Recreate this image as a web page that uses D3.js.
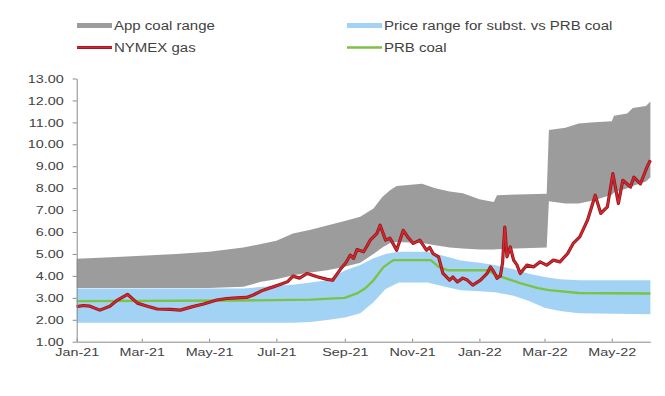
<!DOCTYPE html>
<html>
<head>
<meta charset="utf-8">
<script src="https://cdn.jsdelivr.net/npm/d3@7"></script>
<style>
  html, body { margin: 0; padding: 0; background: #fff; }
  svg { display: block; }
</style>
</head>
<body>
<svg id="chart" width="665" height="396"></svg>
<script>
// Appalachian coal price range (gas-equivalent $/MMBtu)
const appDates = ["2021-01-01","2021-02-01","2021-03-01","2021-04-01","2021-05-01","2021-06-01","2021-06-17","2021-07-01","2021-07-16","2021-08-01","2021-08-16","2021-09-01","2021-09-15","2021-09-27","2021-10-05","2021-10-12","2021-10-18","2021-11-10","2021-11-22","2021-12-05","2021-12-17","2022-01-01","2022-01-14","2022-01-17","2022-03-03","2022-03-05","2022-03-20","2022-04-01","2022-04-15","2022-05-01","2022-05-03","2022-05-15","2022-05-20","2022-06-01","2022-06-05"];
const appLow  = [3.45,3.45,3.45,3.45,3.45,3.5,3.73,3.85,4.03,4.15,4.26,4.42,4.6,5.0,5.3,5.5,5.55,5.5,5.4,5.3,5.25,5.2,5.2,5.22,5.3,7.4,7.3,7.3,7.45,7.7,7.8,8.0,8.1,8.3,8.5];
const appHigh = [4.78,4.85,4.92,5.0,5.1,5.3,5.45,5.6,5.93,6.1,6.3,6.5,6.7,7.07,7.6,7.9,8.1,8.2,8.0,7.85,7.77,7.5,7.37,7.68,7.75,10.65,10.75,10.95,11.0,11.05,11.3,11.4,11.65,11.75,11.95];

// Price range for substitution vs PRB coal
const substDates = ["2021-01-01","2021-06-01","2021-07-01","2021-07-16","2021-08-01","2021-08-16","2021-09-01","2021-09-15","2021-09-27","2021-10-08","2021-10-20","2021-11-15","2021-12-01","2021-12-15","2022-01-01","2022-01-15","2022-02-01","2022-02-15","2022-03-01","2022-03-15","2022-04-01","2022-06-05"];
const substLow  = [1.86,1.86,1.86,1.86,1.9,1.99,2.1,2.3,2.8,3.4,3.7,3.7,3.5,3.35,3.3,3.25,3.1,2.85,2.55,2.4,2.3,2.25];
const substHigh = [3.43,3.43,3.55,3.6,3.7,3.8,4.25,4.5,4.8,5.0,5.1,5.1,4.9,4.7,4.6,4.5,4.3,4.1,3.95,3.85,3.8,3.8];

// PRB coal
const prbDates  = ["2021-01-01","2021-06-01","2021-08-01","2021-09-01","2021-09-12","2021-09-20","2021-09-27","2021-10-06","2021-10-15","2021-11-18","2021-11-25","2021-12-03","2022-01-08","2022-01-17","2022-02-07","2022-02-23","2022-03-05","2022-04-01","2022-06-05"];
const prbValues = [2.85,2.88,2.92,3.0,3.2,3.45,3.8,4.4,4.72,4.72,4.41,4.26,4.26,4.03,3.67,3.44,3.35,3.22,3.2];

// NYMEX gas
const gasDates = ["2021-01-01","2021-01-07","2021-01-13","2021-01-22","2021-01-31","2021-02-07","2021-02-16","2021-02-25","2021-03-06","2021-03-15","2021-03-27","2021-04-05","2021-04-16","2021-04-26","2021-05-08","2021-05-17","2021-05-26","2021-06-04","2021-06-10","2021-06-19","2021-06-28","2021-07-05","2021-07-11","2021-07-16","2021-07-22","2021-07-29","2021-08-07","2021-08-16","2021-08-21","2021-08-28","2021-09-02","2021-09-06","2021-09-09","2021-09-12","2021-09-18","2021-09-21","2021-09-24","2021-09-30","2021-10-03","2021-10-08","2021-10-12","2021-10-15","2021-10-18","2021-10-24","2021-10-28","2021-11-02","2021-11-08","2021-11-14","2021-11-17","2021-11-20","2021-11-25","2021-11-29","2021-12-05","2021-12-08","2021-12-12","2021-12-17","2021-12-21","2021-12-26","2022-01-02","2022-01-08","2022-01-11","2022-01-14","2022-01-17","2022-01-20","2022-01-22","2022-01-24","2022-01-26","2022-01-29","2022-02-01","2022-02-04","2022-02-07","2022-02-10","2022-02-13","2022-02-19","2022-02-25","2022-03-03","2022-03-09","2022-03-15","2022-03-22","2022-03-27","2022-04-02","2022-04-09","2022-04-16","2022-04-21","2022-04-27","2022-05-02","2022-05-07","2022-05-11","2022-05-18","2022-05-21","2022-05-27","2022-06-02","2022-06-05"];
const gasValues = [2.6,2.65,2.62,2.44,2.62,2.9,3.16,2.76,2.62,2.49,2.47,2.44,2.6,2.72,2.9,2.97,3.0,3.02,3.13,3.35,3.5,3.62,3.73,3.99,3.9,4.11,3.96,3.84,3.8,4.3,4.6,4.95,4.8,5.2,5.1,5.35,5.63,5.93,6.31,5.63,5.72,5.45,5.17,6.08,5.78,5.48,5.63,5.17,5.3,5.02,4.87,4.11,3.81,3.95,3.73,3.9,3.81,3.58,3.81,4.11,4.41,4.19,3.89,4.0,4.6,6.23,4.87,5.32,4.72,4.5,4.11,4.3,4.49,4.41,4.64,4.49,4.72,4.64,5.02,5.48,5.78,6.54,7.68,6.85,7.15,8.66,7.3,8.36,8.05,8.5,8.2,8.97,9.27];

// Axis ticks
const yTickValues = [1,2,3,4,5,6,7,8,9,10,11,12,13];
const xTickDates = ["2021-01-01","2021-03-01","2021-05-01","2021-07-01","2021-09-01","2021-11-01","2022-01-01","2022-03-01","2022-05-01"];

// Legend entries
const legendLabels = ["App coal range","Price range for subst. vs PRB coal","NYMEX gas","PRB coal"];

const parse = d3.utcParse("%Y-%m-%d");
const fmtMonth = d3.utcFormat("%b-%y");

const colors = {
  app: "#9c9c9c",
  subst: "#a2d3f5",
  gas: "#d6262e",
  gasEdge: "#8e1a1e",
  prb: "#7cc244",
  axis: "#8a8a8a",
  text: "#424242"
};

const svg = d3.select("#chart");
const stretch = 1.25; // glyph widening applied to all text

const x = d3.scaleUtc()
  .domain([parse("2021-01-01"), parse("2022-06-05")])
  .range([76.7, 650.4]);
const y = d3.scaleLinear()
  .domain([1, 13])
  .range([341.7, 78.5]);

const zipRange = (dates, lo, hi) => dates.map((d, i) => ({ date: parse(d), lo: lo[i], hi: hi[i] }));
const zipLine = (dates, vals) => dates.map((d, i) => ({ date: parse(d), v: vals[i] }));

const area = d3.area()
  .x(d => x(d.date))
  .y0(d => y(d.lo))
  .y1(d => y(d.hi));
const line = d3.line()
  .x(d => x(d.date))
  .y(d => y(d.v));

const plot = svg.append("g");

plot.append("path")
  .datum(zipRange(substDates, substLow, substHigh))
  .attr("d", area)
  .attr("fill", colors.subst);

plot.append("path")
  .datum(zipRange(appDates, appLow, appHigh))
  .attr("d", area)
  .attr("fill", colors.app);

plot.append("path")
  .datum(zipLine(prbDates, prbValues))
  .attr("d", line)
  .attr("fill", "none")
  .attr("stroke", colors.prb)
  .attr("stroke-width", 2.4)
  .attr("stroke-linejoin", "round");

const gasData = zipLine(gasDates, gasValues);
plot.append("path")
  .datum(gasData)
  .attr("d", line)
  .attr("fill", "none")
  .attr("stroke", colors.gasEdge)
  .attr("stroke-width", 3.2)
  .attr("stroke-linejoin", "round");
plot.append("path")
  .datum(gasData)
  .attr("d", line)
  .attr("fill", "none")
  .attr("stroke", colors.gas)
  .attr("stroke-width", 1.6)
  .attr("stroke-linejoin", "round");

// Axes
const yAxis = d3.axisLeft(y)
  .tickValues(yTickValues)
  .tickFormat(d3.format(".2f"))
  .tickSizeInner(4)
  .tickSizeOuter(0)
  .tickPadding(9);

const gy = svg.append("g")
  .attr("transform", `translate(${x.range()[0]},0)`)
  .call(yAxis);

const xAxis = d3.axisBottom(x)
  .tickValues(xTickDates.map(parse))
  .tickFormat(fmtMonth)
  .tickSizeInner(-3)
  .tickSizeOuter(0)
  .tickPadding(6);

const gx = svg.append("g")
  .attr("transform", `translate(0,${y.range()[0]})`)
  .call(xAxis);

[gx, gy].forEach(g => {
  g.select(".domain").attr("stroke", colors.axis).attr("stroke-width", 1);
  g.selectAll(".tick line").attr("stroke", colors.axis);
  g.selectAll(".tick text")
    .attr("fill", colors.text)
    .attr("font-family", "'Liberation Sans', Arial, sans-serif")
    .attr("font-size", 11.5);
});
gy.selectAll(".tick text")
  .attr("x", -13 / stretch)
  .attr("transform", `scale(${stretch},1)`);
gx.selectAll(".tick text")
  .attr("transform", `scale(${stretch},1)`);

// Legend
const legendItems = [
  { label: legendLabels[0], kind: "rect", color: colors.app,   x: 77,  y: 25.5 },
  { label: legendLabels[1], kind: "rect", color: colors.subst, x: 347, y: 25.5 },
  { label: legendLabels[2], kind: "gas",  color: colors.gas,   x: 77,  y: 47.5 },
  { label: legendLabels[3], kind: "line", color: colors.prb,   x: 347, y: 47.5 }
];

const legend = svg.append("g");
legendItems.forEach(item => {
  const g = legend.append("g").attr("transform", `translate(${item.x},${item.y})`);
  if (item.kind === "rect") {
    g.append("rect").attr("x", 0).attr("y", -2.5).attr("width", 35).attr("height", 5).attr("fill", item.color);
  } else if (item.kind === "gas") {
    g.append("line").attr("x1", 0).attr("x2", 35).attr("stroke", colors.gasEdge).attr("stroke-width", 3.2);
    g.append("line").attr("x1", 0).attr("x2", 35).attr("stroke", colors.gas).attr("stroke-width", 1.6);
  } else {
    g.append("line").attr("x1", 0).attr("x2", 35).attr("stroke", item.color).attr("stroke-width", 2.4);
  }
  g.append("text")
    .attr("transform", `translate(37,4) scale(${stretch},1)`)
    .attr("fill", colors.text)
    .attr("font-family", "'Liberation Sans', Arial, sans-serif")
    .attr("font-size", 12)
    .text(item.label);
});
</script>
</body>
</html>
